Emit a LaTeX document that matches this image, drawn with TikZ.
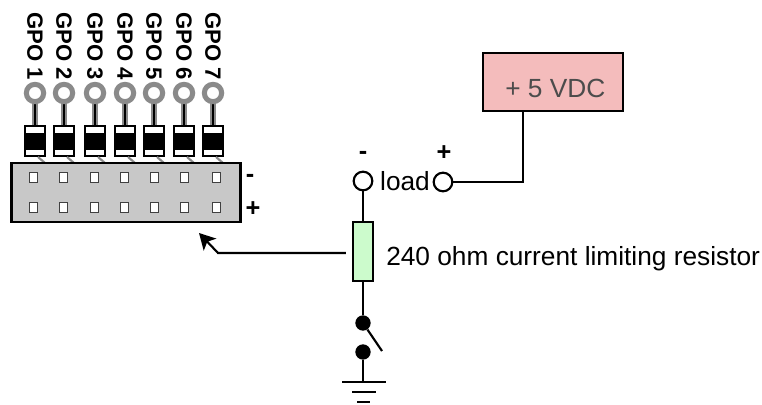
\documentclass[tikz,border=0pt]{standalone}
\usepackage{fontspec}
\setmainfont{Liberation Sans}
\usetikzlibrary{arrows.meta}
\definecolor{pinkbox}{HTML}{F4BCBC}
\definecolor{greenbox}{HTML}{CCFBCC}
\definecolor{headerfill}{HTML}{C8C8C8}
\definecolor{leadgrey}{HTML}{8A8A8A}
\tikzset{
 wire/.style={line width=1.6pt,black},
 pinring/.style={circle,draw=leadgrey,line width=3.8pt,fill=white,minimum size=13pt,inner sep=0pt},
 gpolabel/.style={rotate=-90,anchor=west,font=\bfseries\fontsize{16.6}{19}\selectfont,inner sep=0pt},
 hole/.style={rectangle,draw=black!75,line width=0.7pt,fill=white,minimum width=6pt,minimum height=7.5pt,inner sep=0pt},
 term/.style={circle,draw=black,line width=1.6pt,fill=white,minimum size=14pt,inner sep=0pt},
 dot/.style={circle,fill=black,minimum size=11.5pt,inner sep=0pt},
 txt/.style={font=\fontsize{19.7}{22}\selectfont,inner sep=0pt},
 sign/.style={font=\bfseries\fontsize{19}{20}\selectfont,inner sep=0pt},
}
\begin{document}
\begin{tikzpicture}[x=0.75pt,y=-0.75pt]
\useasboundingbox (0,0) rectangle (762,404);
% header
\foreach \n/\x in {1/35,2/64,3/95,4/125,5/154,6/184,7/213}{
  \draw[leadgrey,line width=5pt] (\x,98) -- (\x,126);
  \draw[black,line width=1pt] (\x,100) -- (\x,126);
  \node[pinring] (ring\n) at (\x,93) {};
  \fill[black] (\x-11,125) rectangle (\x+11,157);
  \fill[white] (\x-9,127) rectangle (\x+9,133);
  \fill[white] (\x-9,150) rectangle (\x+9,155);
  \draw[leadgrey,line width=1.6pt] (\x+3,157) -- (\x+10,163);
  \node[gpolabel] (gpo\n) at (\x,12) {GPO \n};
}
\node[draw=black,line width=1.8pt,fill=headerfill,minimum width=172pt,minimum height=44pt,inner sep=0pt] (header) at (126,192.5) {};
\foreach \n/\x in {1/33,2/63,3/94,4/124,5/154,6/184,7/216}{
  \node[hole] (ha\n) at (\x,177) {};
  \node[hole] (hb\n) at (\x,207) {};
}
\node[sign] (hminus) at (250,178) {-};
\node[sign] (hplus) at (253,209) {+};
% supply
\node[draw=black,line width=1.8pt,fill=pinkbox,minimum width=105pt,minimum height=43.5pt,inner sep=0pt] (supply) at (553,82) {};
\node[txt,text=black!70,anchor=west] (supplytxt) at (505,88) {+ 5 VDC};
% load
\node[term] (loadm) at (363,181) {};
\node[term] (loadp) at (443,182) {};
\node[txt,anchor=base] (loadtxt) at (405,190.5) {load};
\node[sign] (lminus) at (363,155) {-};
\node[sign] (lplus) at (444,153) {+};
\coordinate (corner) at (523,182);
\draw[wire] (supply.south -| corner) -- (corner) -- (loadp);
% resistor
\node[draw=black,line width=1.6pt,fill=greenbox,minimum width=15pt,minimum height=44pt,inner sep=0pt] (res) at (363,251.5) {};
\node[txt,anchor=west] (restxt) at (386,259) {240 ohm current limiting resistor};
\draw[wire] (loadm) -- (res);
% arrow
\coordinate (bend) at (218,253);
\coordinate (tip) at (199,233);
\draw[wire,-{Stealth[length=12pt,width=13pt,inset=3pt]}] (res.west |- bend) ++(-6,0) -- (bend) -- (tip);
% switch and ground
\node[dot] (swa) at (363,323) {};
\node[dot] (swb) at (363,352) {};
\coordinate (swend) at (382,351);
\coordinate (gnd) at (363,382);
\draw[wire] (res) -- (swa);
\draw[wire] (swa) -- (swend);
\draw[wire] (swb) -- (gnd);
\coordinate (g1l) at (342,382); \coordinate (g1r) at (386,382);
\coordinate (g2l) at (352,392); \coordinate (g2r) at (376,392);
\coordinate (g3l) at (357,402); \coordinate (g3r) at (370,402);
\draw[wire] (g1l) -- (g1r);
\draw[wire] (g2l) -- (g2r);
\draw[wire,line width=2.2pt] (g3l) -- (g3r);
\end{tikzpicture}
\end{document}
